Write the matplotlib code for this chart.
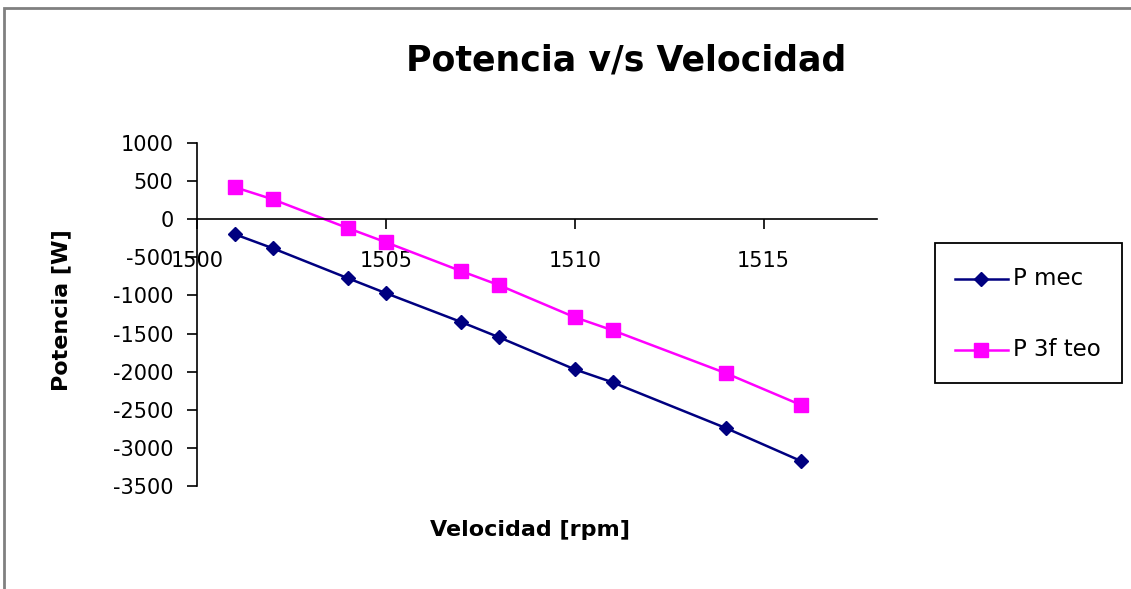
import matplotlib
matplotlib.use("Agg")
import matplotlib.pyplot as plt
from matplotlib.patches import Rectangle
from matplotlib.lines import Line2D

velocidad = [1501, 1502, 1504, 1505, 1507, 1508, 1510, 1511, 1514, 1516]
p_mec = [-197, -380, -775, -970, -1350, -1550, -1970, -2140, -2740, -3175]
p_3f_teo = [420, 262, -118, -302, -682, -866, -1286, -1457, -2020, -2440]
series_names = ["P mec", "P 3f teo"]
title = "Potencia v/s Velocidad"
xlabel = "Velocidad [rpm]"
ylabel = "Potencia [W]"
xticks = [1500, 1505, 1510, 1515]
yticks = [1000, 500, 0, -500, -1000, -1500, -2000, -2500, -3000, -3500]

plt.rcParams['font.family'] = ['DejaVu Sans']
plt.rcParams['axes.unicode_minus'] = False
W, H = 1131, 589
fig = plt.figure(figsize=(W / 100, H / 100), dpi=100)
fig.patch.set_facecolor('white')

# outer chart frame
fig.patches.append(Rectangle((4 / W, -0.1), 1.2, (H - 8) / H + 0.1, transform=fig.transFigure,
                             fill=False, edgecolor='#808080', linewidth=2))

ax = fig.add_axes([197 / W, 1 - 486 / H, 680 / W, 343 / H])
ax.plot(velocidad, p_mec, color='#000080', marker='D', markersize=7.5, linewidth=1.8, label=series_names[0])
ax.plot(velocidad, p_3f_teo, color='#FF00FF', marker='s', markersize=10, linewidth=1.8, label=series_names[1])

ax.set_xlim(1500, 1518)
ax.set_ylim(-3500, 1000)
ax.set_xticks(xticks)
ax.set_yticks(yticks)
ax.spines['top'].set_visible(False)
ax.spines['right'].set_visible(False)
ax.spines['bottom'].set_position(('data', 0))
ax.spines['bottom'].set_linewidth(1.2)
ax.spines['left'].set_linewidth(1.2)
ax.tick_params(axis='x', direction='out', length=7, width=1.2, labelsize=15, pad=16)
ax.tick_params(axis='y', direction='out', length=7, width=1.2, labelsize=15, pad=10)

fig.text(626 / W, 1 - 61 / H, title, ha='center', va='center', fontsize=25, fontweight='bold')
fig.text(530 / W, 1 - 530 / H, xlabel, ha='center', va='center', fontsize=16, fontweight='bold')
fig.text(61 / W, 1 - 310 / H, ylabel, ha='center', va='center', fontsize=16, fontweight='bold', rotation=90)

# legend
lx0, ly0, lx1, ly1 = 935, 243, 1122, 383
fig.patches.append(Rectangle((lx0 / W, 1 - ly1 / H), (lx1 - lx0) / W, (ly1 - ly0) / H,
                             transform=fig.transFigure, fill=False, edgecolor='black', linewidth=1.3))
handles = [Line2D([], [], color='#000080', marker='D', markersize=7.5, linewidth=1.8),
           Line2D([], [], color='#FF00FF', marker='s', markersize=10, linewidth=1.8)]
for i, (h, name) in enumerate(zip(handles, series_names)):
    yy = 1 - [279, 350][i] / H
    fig.add_artist(Line2D([955 / W, 1008 / W], [yy, yy], transform=fig.transFigure,
                          color=h.get_color(), linewidth=1.8))
    fig.add_artist(Line2D([981 / W], [yy], transform=fig.transFigure, color=h.get_color(),
                          marker=h.get_marker(), markersize=h.get_markersize(), linestyle='none'))
    fig.text(1013 / W, yy, name, ha='left', va='center', fontsize=16.5)

fig.savefig('out.png', dpi=100)
